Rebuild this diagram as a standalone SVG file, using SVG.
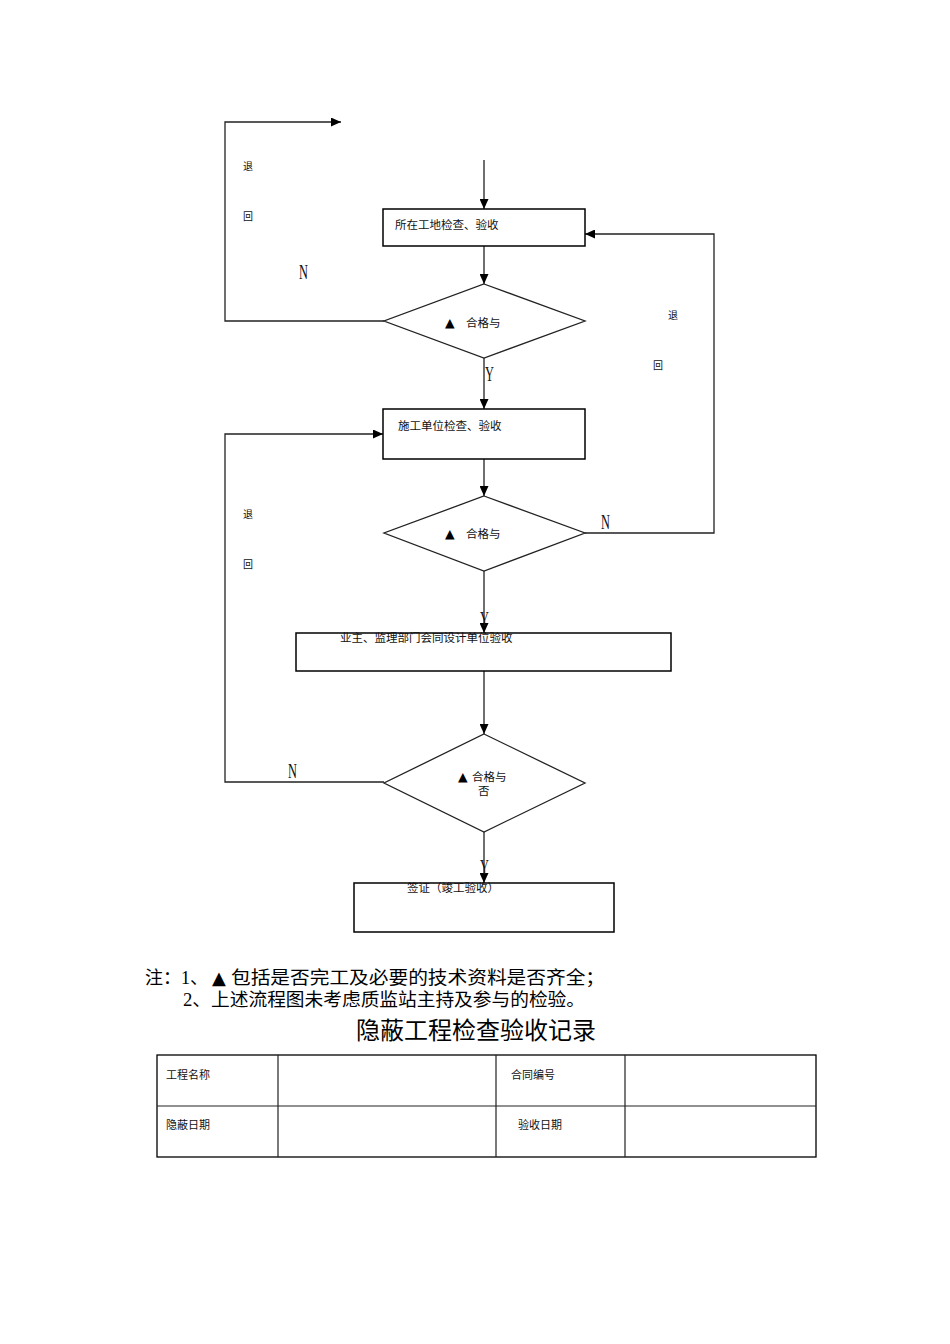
<svg xmlns="http://www.w3.org/2000/svg" width="950" height="1344" viewBox="0 0 950 1344">
<style>
.box{fill:#fff;stroke:#000;stroke-width:1.5}
.dia{fill:#fff;stroke:#222;stroke-width:1.3}
.ln{fill:none;stroke:#222;stroke-width:1.3}
.t{font-family:"Noto Sans CJK SC","Liberation Serif",serif;font-size:11.5px;fill:#111}
.tri{font-family:"DejaVu Sans",sans-serif;font-size:12.5px;fill:#000}
.s{font-family:"Noto Sans CJK SC",sans-serif;font-size:10px;fill:#111}
.yn{font-family:"Liberation Serif",serif;font-size:20px;fill:#111}
.note{font-family:"Liberation Serif","Noto Sans CJK SC",serif;font-size:18px;fill:#000}
.title{font-family:"Noto Sans CJK SC",sans-serif;font-size:24px;fill:#000}
.cell{font-family:"Noto Sans CJK SC",sans-serif;font-size:11px;fill:#111}
</style>
<defs>
<marker id="ah" markerWidth="10" markerHeight="9" refX="10" refY="4.5" orient="auto" markerUnits="userSpaceOnUse">
<path d="M0,0 L10,4.5 L0,9 Z" fill="#000"/>
</marker>
</defs>
<rect width="950" height="1344" fill="#fff"/>
<g id="connectors">
<path class="ln" d="M384,321 H225 V122 H341" marker-end="url(#ah)"/>
<path class="ln" d="M484,160 V209" marker-end="url(#ah)"/>
<path class="ln" d="M484,246 V284" marker-end="url(#ah)"/>
<path class="ln" d="M484,358 V409" marker-end="url(#ah)"/>
<path class="ln" d="M585,533 H714 V234 H585" marker-end="url(#ah)"/>
<path class="ln" d="M484,459 V496" marker-end="url(#ah)"/>
<path class="ln" d="M384,782 H225 V434 H383" marker-end="url(#ah)"/>
<path class="ln" d="M484,571 V633" marker-end="url(#ah)"/>
<path class="ln" d="M484,671 V734" marker-end="url(#ah)"/>
<path class="ln" d="M484,832 V883" marker-end="url(#ah)"/>
<text class="s" x="243" y="170">退</text>
<text class="s" x="243" y="220">回</text>
<text class="yn" transform="translate(299,279) scale(0.62,1)">N</text>
<text class="yn" transform="translate(485,381) scale(0.62,1)">Y</text>
<text class="s" x="668" y="319">退</text>
<text class="s" x="653" y="369">回</text>
<text class="yn" transform="translate(601,529) scale(0.62,1)">N</text>
<text class="s" x="243" y="518">退</text>
<text class="s" x="243" y="568">回</text>
<text class="yn" transform="translate(480,626) scale(0.62,1)">Y</text>
<text class="yn" transform="translate(288,778) scale(0.62,1)">N</text>
<text class="yn" transform="translate(480,874) scale(0.62,1)">Y</text>
</g>
<g id="box1">
<rect class="box" x="383" y="209" width="202" height="37"/>
<text class="t" x="395" y="229">所在工地检查、验收</text>
</g>
<g id="dia1">
<polygon class="dia" points="484,284 585,321 484,358 384,321"/>
<text class="tri" x="445" y="327">▲</text>
<text class="t" x="466" y="327">合格与</text>
</g>
<g id="box2">
<rect class="box" x="383" y="409" width="202" height="50"/>
<text class="t" x="398" y="430">施工单位检查、验收</text>
</g>
<g id="dia2">
<polygon class="dia" points="484,496 585,533 484,571 384,533"/>
<text class="tri" x="445" y="538">▲</text>
<text class="t" x="466" y="538">合格与</text>
</g>
<g id="box3">
<rect class="box" x="296" y="633" width="375" height="38"/>
<text class="t" x="340" y="642">业主、监理部门会同设计单位验收</text>
</g>
<g id="dia3">
<polygon class="dia" points="484,734 585,783 484,832 384,783"/>
<text class="tri" x="458" y="781">▲</text>
<text class="t" x="472" y="781">合格与</text>
<text class="t" x="478" y="795">否</text>
</g>
<g id="box4">
<rect class="box" x="354" y="883" width="260" height="49"/>
<text class="t" x="407" y="892">签证（竣工验收）</text>
</g>
<g id="notes">
<text class="note" x="145" y="984">注：1、</text>
<text class="tri" x="212" y="984" style="font-size:18px">▲</text>
<text class="note" x="231" y="984" textLength="374" lengthAdjust="spacingAndGlyphs">包括是否完工及必要的技术资料是否齐全；</text>
<text class="note" x="183" y="1006" textLength="402" lengthAdjust="spacingAndGlyphs">2、上述流程图未考虑质监站主持及参与的检验。</text>
<text class="title" x="476" y="1039" text-anchor="middle">隐蔽工程检查验收记录</text>
</g>
<g id="table">
<rect x="157" y="1055" width="659" height="102" fill="none" stroke="#000" stroke-width="1.3"/>
<path d="M157,1106 H816 M278,1055 V1157 M496,1055 V1157 M625,1055 V1157" fill="none" stroke="#222" stroke-width="1.2"/>
<text class="cell" x="166" y="1079">工程名称</text>
<text class="cell" x="511" y="1079">合同编号</text>
<text class="cell" x="166" y="1129">隐蔽日期</text>
<text class="cell" x="518" y="1129">验收日期</text>
</g>
</svg>
